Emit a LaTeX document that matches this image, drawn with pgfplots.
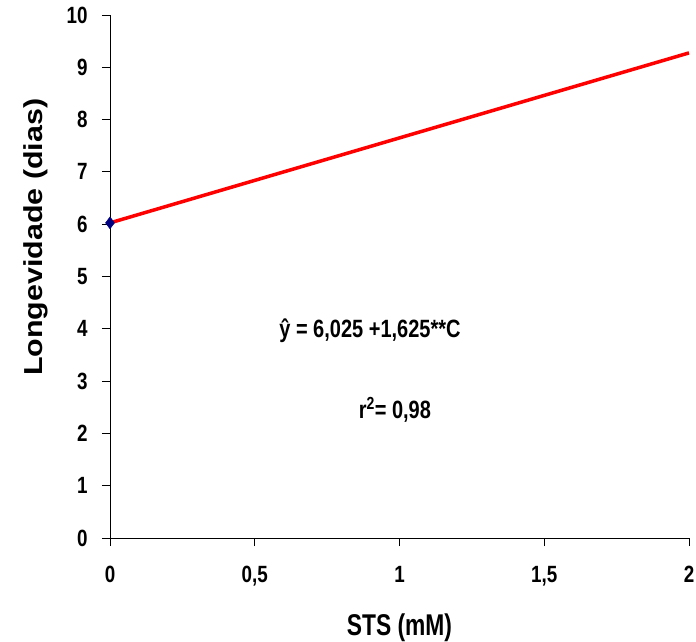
\documentclass[border=0pt]{standalone}
\usepackage{fontspec}
\usepackage{pgfplots}
\pgfplotsset{compat=1.18}
\setmainfont{Liberation Sans}
\newfontfamily\tickf{Liberation Sans}[FakeStretch=0.8]
\newfontfamily\labf{Liberation Sans}[FakeStretch=0.76]
\newfontfamily\ylabf{Liberation Sans}[FakeStretch=1.17]
\newfontfamily\eqf{Liberation Sans}[FakeStretch=0.8]
\definecolor{navyc}{RGB}{0,0,128}
\begin{document}
\begin{tikzpicture}
\begin{axis}[
  scale only axis,
  width=579pt, height=523pt,
  xmin=0, xmax=2, ymin=0, ymax=10,
  axis lines=left,
  axis line style={-, black, line width=0.9pt},
  tick style={black, line width=0.9pt},
  tick align=outside,
  major tick length=8pt,
  /pgf/number format/assume math mode=true,
  xtick={0,0.5,1,1.5,2},
  xticklabels={0,{0,5},1,{1,5},2},
  ytick={0,1,...,10},
  xticklabel style={font=\tickf\bfseries\fontsize{23.5}{26}\selectfont, yshift=-17pt},
  yticklabel style={font=\tickf\bfseries\fontsize{23.5}{26}\selectfont, xshift=-11pt},
  xlabel={STS (mM)},
  ylabel={Longevidade (dias)},
  xlabel style={font=\labf\bfseries\fontsize{30}{34}\selectfont, yshift=-20pt},
  ylabel style={font=\ylabf\bfseries\fontsize{26}{30}\selectfont, at={(ticklabel cs:0.575)}, yshift=12pt},
  clip=false,
]
\coordinate (O) at (rel axis cs:0,0);
\addplot[red, line width=3.5pt, no marks] coordinates {(0,6.025) (2,9.275)};
\addplot[only marks, mark=diamond*, mark size=6pt, mark options={fill=navyc, draw=navyc}] coordinates {(0,6.025)};
\node[font=\eqf\bfseries\fontsize{25}{28}\selectfont] at (axis cs:0.898,3.96) {\^{y} = 6,025 +1,625**C};
\node[font=\eqf\bfseries\fontsize{25}{28}\selectfont] at (axis cs:0.984,2.45) {r\textsuperscript{2}= 0,98};
\end{axis}
\pgfresetboundingbox
\path[use as bounding box] (O) ++(-110pt,-104pt) rectangle ++(696pt,642pt);
\end{tikzpicture}
\end{document}
